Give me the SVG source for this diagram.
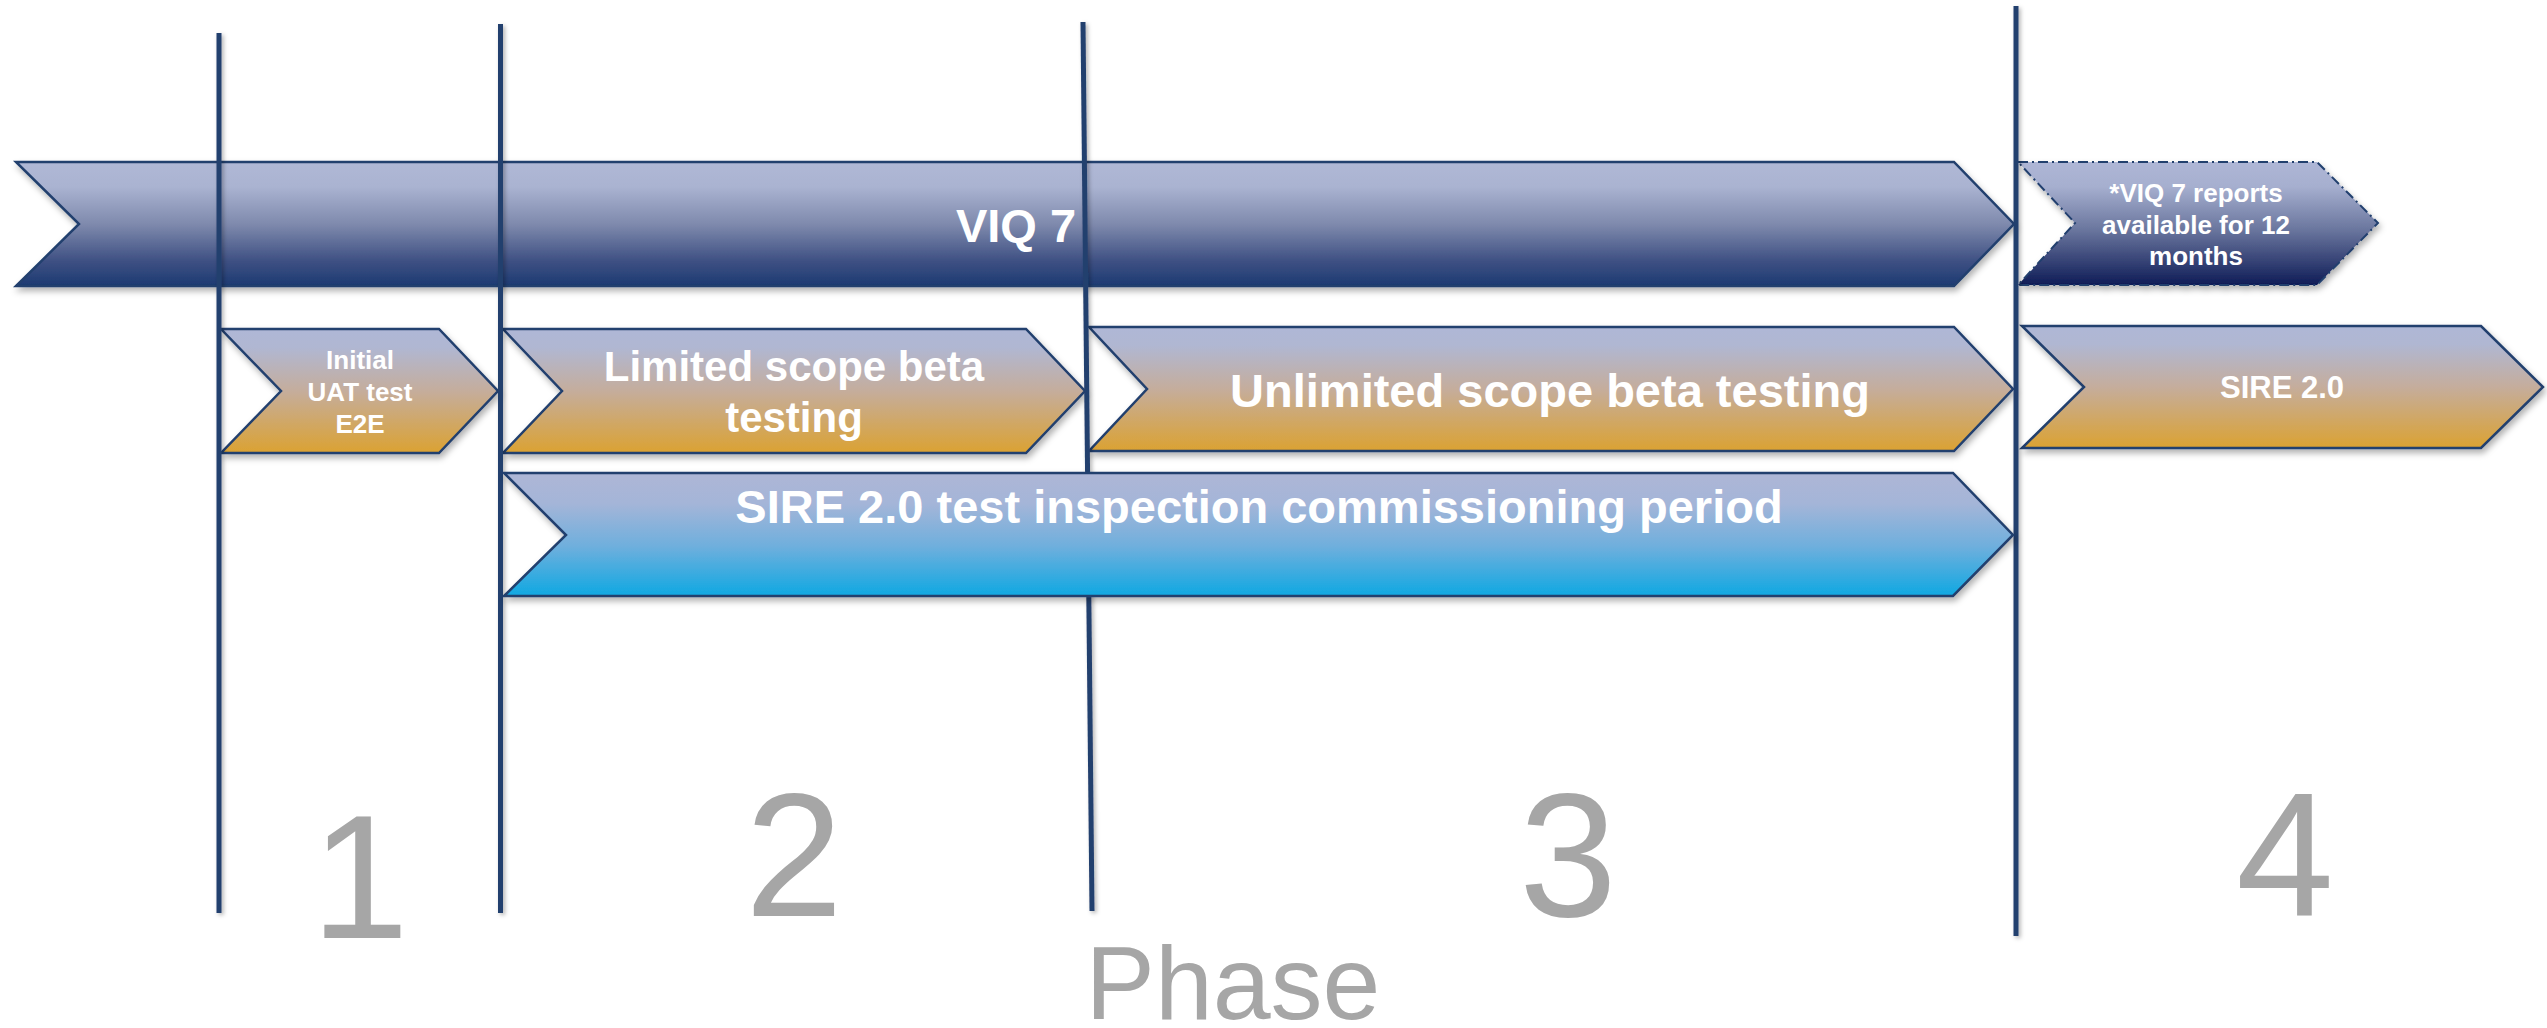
<svg xmlns="http://www.w3.org/2000/svg" width="2547" height="1028" viewBox="0 0 2547 1028">
  <defs>
    <linearGradient id="gNavy" x1="0" y1="0" x2="0" y2="1">
      <stop offset="0" stop-color="#b0b8d6"/>
      <stop offset="0.2" stop-color="#aab3d1"/>
      <stop offset="0.5" stop-color="#7f8aad"/>
      <stop offset="0.8" stop-color="#3e5083"/>
      <stop offset="1" stop-color="#1c3a72"/>
    </linearGradient>
    <linearGradient id="gGold" x1="0" y1="0" x2="0" y2="1">
      <stop offset="0" stop-color="#afb7d6"/>
      <stop offset="0.15" stop-color="#b0b7d2"/>
      <stop offset="0.5" stop-color="#c5ad9c"/>
      <stop offset="1" stop-color="#dba232"/>
    </linearGradient>
    <linearGradient id="gBlue" x1="0" y1="0" x2="0" y2="1">
      <stop offset="0" stop-color="#aeb6d6"/>
      <stop offset="0.25" stop-color="#a4b5d8"/>
      <stop offset="0.6" stop-color="#6eafdd"/>
      <stop offset="1" stop-color="#0fa8e2"/>
    </linearGradient>
    <linearGradient id="gDark" x1="0" y1="0" x2="0" y2="1">
      <stop offset="0" stop-color="#aeb6d6"/>
      <stop offset="0.2" stop-color="#a6afcf"/>
      <stop offset="0.55" stop-color="#6a769e"/>
      <stop offset="1" stop-color="#0f1c57"/>
    </linearGradient>
    <filter id="shadow" x="-5%" y="-10%" width="110%" height="130%">
      <feDropShadow dx="2" dy="4" stdDeviation="3" flood-color="#000" flood-opacity="0.3"/>
    </filter>
    <filter id="lshadow" filterUnits="userSpaceOnUse" x="0" y="0" width="2547" height="1028">
      <feDropShadow dx="2" dy="2" stdDeviation="2" flood-color="#000" flood-opacity="0.3"/>
    </filter>
  </defs>
  <style>
    .arrow { stroke: #213f6e; stroke-width: 2.5; stroke-linejoin: miter; filter: url(#shadow); }
    .dashed { stroke-dasharray: 10 4 2 4; stroke-width: 2; }
    .lbl { font-family: "Liberation Sans", Arial, sans-serif; font-weight: bold; fill: #ffffff; text-anchor: middle; }
    .divider { fill: #243f6e; filter: url(#lshadow); }
    .phase { font-family: "Liberation Sans", Arial, sans-serif; fill: #a6a6a6; text-anchor: middle; }
  </style>
  <rect width="2547" height="1028" fill="#ffffff"/>

  <g id="viq7">
    <polygon class="arrow" fill="url(#gNavy)" points="16,162 1954,162 2014,224 1954,286 16,286 79,224"/>
    <text class="lbl" x="1016" y="242" font-size="47">VIQ 7</text>
  </g>

  <g id="viq7-reports">
    <polygon class="arrow dashed" fill="url(#gDark)" points="2018,162 2317,162 2378,223 2317,285 2018,285 2075,223"/>
    <text class="lbl" x="2196" y="202" font-size="26">*VIQ 7 reports</text>
    <text class="lbl" x="2196" y="233.5" font-size="26">available for 12</text>
    <text class="lbl" x="2196" y="265" font-size="26">months</text>
  </g>

  <g id="uat">
    <polygon class="arrow" fill="url(#gGold)" points="221,329 439,329 498,391 439,453 221,453 281,391"/>
    <text class="lbl" x="360" y="369" font-size="26">Initial</text>
    <text class="lbl" x="360" y="401" font-size="26">UAT test</text>
    <text class="lbl" x="360" y="433" font-size="26">E2E</text>
  </g>

  <g id="limited">
    <polygon class="arrow" fill="url(#gGold)" points="503,329 1026,329 1085,391 1026,453 503,453 562,391"/>
    <text class="lbl" x="794" y="381" font-size="42">Limited scope beta</text>
    <text class="lbl" x="794" y="431.5" font-size="42">testing</text>
  </g>

  <g id="unlimited">
    <polygon class="arrow" fill="url(#gGold)" points="1089,327 1954,327 2013,389 1954,451 1089,451 1147,389"/>
    <text class="lbl" x="1550" y="407" font-size="47">Unlimited scope beta testing</text>
  </g>

  <g id="sire20">
    <polygon class="arrow" fill="url(#gGold)" points="2022,326 2481,326 2543,387 2481,448 2022,448 2084,387"/>
    <text class="lbl" x="2282" y="398" font-size="31">SIRE 2.0</text>
  </g>

  <g id="connectors">
    <rect class="divider" x="216.5" y="33" width="5" height="880"/>
    <rect class="divider" x="498" y="24" width="5" height="889"/>
    <polygon class="divider" points="1080.5,22 1085.5,22 1094.5,911 1089.5,911"/>
    <rect class="divider" x="2013.5" y="6" width="5" height="930"/>
  </g>

  <g id="commissioning">
    <polygon class="arrow" fill="url(#gBlue)" points="504,473 1953,473 2013,535 1953,596 504,596 566,535"/>
    <text class="lbl" x="1259" y="523" font-size="47">SIRE 2.0 test inspection commissioning period</text>
  </g>

  <g id="phases">
    <text class="phase" x="360" y="938" font-size="176">1</text>
    <text class="phase" x="794" y="916" font-size="176">2</text>
    <text class="phase" x="1568" y="916" font-size="176">3</text>
    <text class="phase" x="2285" y="916" font-size="176">4</text>
    <text class="phase" x="1233" y="1019" font-size="104">Phase</text>
  </g>
</svg>
